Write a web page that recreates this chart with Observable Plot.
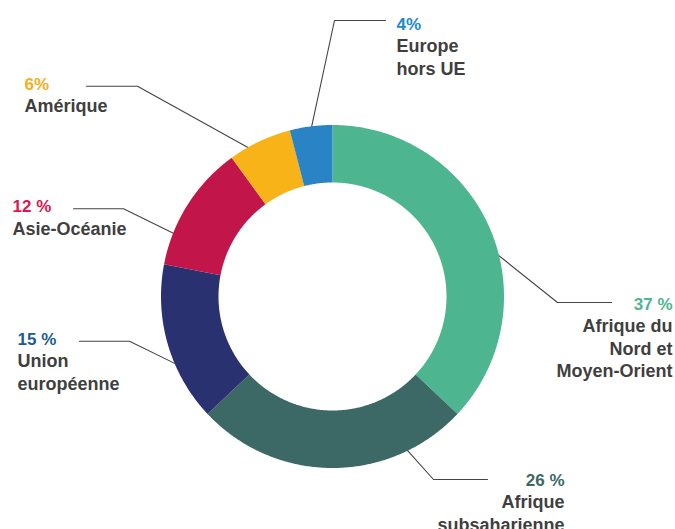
<!DOCTYPE html>
<html><head><meta charset="utf-8">
<script src="https://cdn.jsdelivr.net/npm/d3@7"></script>
<script src="https://cdn.jsdelivr.net/npm/@observablehq/plot@0.6"></script>
<style>html,body{margin:0;padding:0;background:#fff}#chart svg{display:block}</style>
</head><body><div id="chart"></div>
<script>
// ---- data ----
const categories = ["Afrique du Nord et Moyen-Orient","Afrique subsaharienne","Union européenne","Asie-Océanie","Amérique","Europe hors UE"];
const values = [37, 26, 15, 12, 6, 4];
const valueLabels = ["37 %", "26 %", "15 %", "12 %", "6%", "4%"];
const nameLabels = ["Afrique du\nNord et\nMoyen-Orient", "Afrique\nsubsaharienne", "Union\neuropéenne", "Asie-Océanie", "Amérique", "Europe\nhors UE"];

// ---- styles ----
const sliceColors = ["#4db58f", "#3c6866", "#2a3170", "#c2154a", "#f7b318", "#2a83c4"];
const labelColors = ["#4db58f", "#3c6866", "#1b5c94", "#e0144f", "#f5ae1a", "#1b8ad0"];
const textColor = "#3f3f3f";
const lineColor = "#444";
const FONT = "'Liberation Sans', Arial, Helvetica, sans-serif";

// ---- layout (pixels relative to donut centre, y downwards) ----
const W = 675, H = 529, CX = 332, CY = 296, R_OUT = 171.5, R_IN = 114;
const LINE_GAP = 22.5;
const labelLayout = [
  {touch: 75.4,  elbow: [225, 6],     end: [279, 6],     x: 340,  y: 13.3,  anchor: "end"},
  {touch: 154.2, elbow: [101, 183],   end: [155, 183],   x: 232,  y: 189,   anchor: "end"},
  {touch: 246.3, elbow: [-203, 44.7], end: [-253, 44.7], x: -315, y: 48,    anchor: "start"},
  {touch: 291.6, elbow: [-209, -87.7],end: [-259, -87.7],x: -320, y: -84.3, anchor: "start"},
  {touch: 330.8, elbow: [-195, -210.3],end: [-246, -210.3],x: -308, y: -207, anchor: "start"},
  {touch: 352.8, elbow: [2, -276],    end: [53, -276],   x: 64,   y: -267,  anchor: "start"}
];

const polar = (deg, r) => {
  const a = deg * Math.PI / 180;
  return [r * Math.sin(a), -r * Math.cos(a)];
};

// slices built from the values
const total = d3.sum(values);
const slicePts = [];
let acc = 0;
categories.forEach((cat, i) => {
  const a0 = acc / total * 360, a1 = (acc + values[i]) / total * 360;
  acc += values[i];
  const n = Math.max(4, Math.ceil((a1 - a0) * 2));
  for (let k = 0; k <= n; k++) {
    const [x, y] = polar(a0 + (a1 - a0) * k / n, R_OUT);
    slicePts.push({cat, x, y});
  }
  for (let k = n; k >= 0; k--) {
    const [x, y] = polar(a0 + (a1 - a0) * k / n, R_IN);
    slicePts.push({cat, x, y});
  }
});

// leader lines
const leaderPts = [];
categories.forEach((cat, i) => {
  const L = labelLayout[i];
  const [x0, y0] = polar(L.touch, R_OUT - 2);
  leaderPts.push({cat, x: x0, y: y0});
  leaderPts.push({cat, x: L.elbow[0], y: L.elbow[1]});
  leaderPts.push({cat, x: L.end[0], y: L.end[1]});
});

const textMarks = [];
categories.forEach((cat, i) => {
  const L = labelLayout[i];
  const nLines = nameLabels[i].split("\n").length;
  textMarks.push(Plot.text([{cat, x: L.x, y: L.y, t: valueLabels[i]}], {
    x: "x", y: "y", text: "t", textAnchor: L.anchor, lineAnchor: "bottom",
    fill: labelColors[i], fontSize: 17, fontWeight: "bold", fontFamily: FONT
  }));
  textMarks.push(Plot.text([{cat, x: L.x, y: L.y + LINE_GAP * nLines, t: nameLabels[i]}], {
    x: "x", y: "y", text: "t", textAnchor: L.anchor, lineAnchor: "bottom",
    lineHeight: LINE_GAP / 18,
    fill: textColor, fontSize: 18, fontWeight: "bold", fontFamily: FONT
  }));
});

const chart = Plot.plot({
  width: W, height: H, margin: 0,
  style: {background: "#fff", fontFamily: FONT},
  x: {domain: [-CX, W - CX], range: [0, W], axis: null},
  y: {domain: [-CY, H - CY], range: [0, H], axis: null},
  color: {domain: categories, range: sliceColors},
  marks: [
    Plot.line(leaderPts, {x: "x", y: "y", z: "cat", stroke: lineColor, strokeWidth: 1.1}),
    Plot.line(slicePts, {x: "x", y: "y", z: "cat", fill: "cat", stroke: "none", curve: "linear"}),
    ...textMarks
  ]
});
document.getElementById("chart").appendChild(chart);
</script>
</body></html>
